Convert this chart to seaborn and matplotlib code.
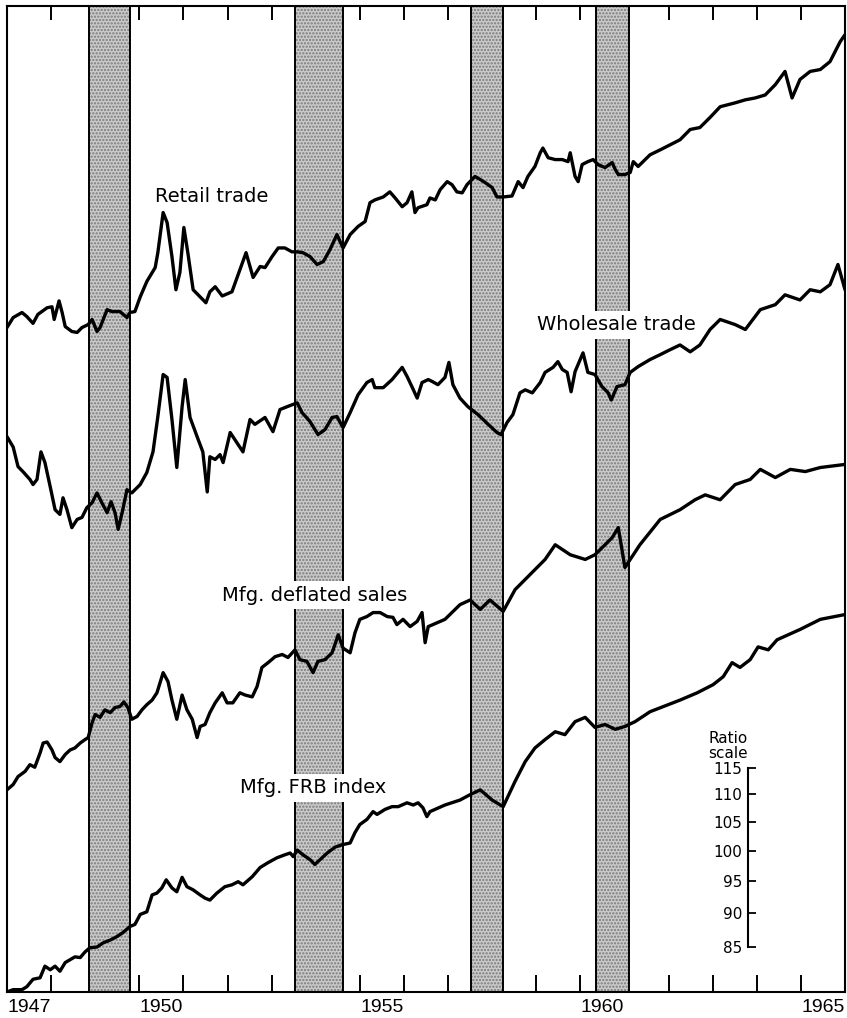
import matplotlib
matplotlib.use("Agg")
import matplotlib.pyplot as plt
from matplotlib.ticker import NullLocator
import pandas as pd
import seaborn as sns

# ---------------------------------------------------------------------------
# Monthly-ish readings (decimal year, index value on a ratio scale)
# ---------------------------------------------------------------------------
retail_dates = [
    1947.00, 1947.14, 1947.34, 1947.45, 1947.59, 1947.70, 1947.91, 1948.02, 1948.07, 1948.18,
    1948.25, 1948.32, 1948.47, 1948.59, 1948.70, 1948.84, 1948.93, 1949.04, 1949.11, 1949.27,
    1949.38, 1949.56, 1949.72, 1949.79, 1949.90, 1950.02, 1950.17, 1950.36, 1950.42, 1950.54,
    1950.63, 1950.74, 1950.83, 1950.92, 1951.01, 1951.10, 1951.22, 1951.38, 1951.51, 1951.60,
    1951.72, 1951.88, 1952.10, 1952.42, 1952.58, 1952.74, 1952.85, 1953.01, 1953.15, 1953.30,
    1953.46, 1953.58, 1953.71, 1953.87, 1954.03, 1954.17, 1954.32, 1954.48, 1954.62, 1954.78,
    1954.96, 1955.12, 1955.23, 1955.34, 1955.53, 1955.68, 1955.80, 1955.96, 1956.07, 1956.18,
    1956.25, 1956.32, 1956.52, 1956.59, 1956.71, 1956.82, 1956.98, 1957.09, 1957.20, 1957.32,
    1957.43, 1957.61, 1957.73, 1957.84, 1958.00, 1958.11, 1958.25, 1958.45, 1958.59, 1958.70,
    1958.81, 1958.97, 1959.09, 1959.15, 1959.27, 1959.43, 1959.59, 1959.72, 1959.77, 1959.88,
    1959.95, 1960.04, 1960.17, 1960.29, 1960.40, 1960.56, 1960.72, 1960.79, 1960.86, 1961.01,
    1961.13, 1961.20, 1961.31, 1961.58, 1961.81, 1962.03, 1962.26, 1962.49, 1962.71, 1962.94,
    1963.17, 1963.51, 1963.74, 1963.96, 1964.19, 1964.42, 1964.64, 1964.80, 1964.98, 1965.21,
    1965.44, 1965.66, 1965.89, 1966.00,
]
retail_values = [
    241.6, 245.7, 247.8, 246.1, 243.3, 247.0, 249.8, 250.2, 244.9, 252.7,
    247.8, 242.0, 240.0, 239.6, 241.6, 242.8, 244.9, 240.0, 241.6, 249.0,
    248.2, 248.2, 245.7, 247.8, 248.2, 254.4, 261.1, 267.3, 274.1, 293.3,
    288.4, 272.3, 257.5, 265.1, 286.0, 274.1, 257.5, 254.4, 251.9, 256.6,
    258.8, 254.8, 256.6, 274.1, 262.9, 267.8, 267.3, 272.3, 276.3, 276.3,
    274.5, 274.5, 274.1, 272.3, 268.7, 270.0, 275.4, 282.6, 276.3, 282.6,
    286.5, 288.9, 298.2, 299.6, 301.1, 303.7, 300.6, 296.2, 298.2, 303.7,
    293.3, 295.7, 297.2, 300.6, 299.6, 304.8, 309.0, 307.4, 303.7, 303.2,
    307.4, 311.7, 310.1, 308.5, 305.9, 301.1, 301.1, 301.6, 309.0, 305.9,
    311.7, 317.0, 324.4, 327.0, 321.7, 320.7, 320.7, 319.6, 324.4, 311.7,
    309.0, 318.0, 319.6, 320.7, 318.0, 316.4, 319.1, 315.4, 312.7, 312.7,
    313.8, 319.6, 317.0, 323.3, 326.0, 328.7, 331.6, 337.4, 338.5, 344.3,
    350.6, 352.9, 354.7, 355.8, 357.6, 363.9, 372.1, 355.8, 367.1, 372.1,
    373.3, 378.3, 391.2, 395.9,
]

wholesale_dates = [
    1947.00, 1947.14, 1947.25, 1947.36, 1947.52, 1947.59, 1947.68, 1947.77, 1947.86, 1947.98,
    1948.09, 1948.20, 1948.27, 1948.36, 1948.47, 1948.59, 1948.70, 1948.81, 1948.93, 1949.04,
    1949.15, 1949.27, 1949.36, 1949.45, 1949.52, 1949.61, 1949.72, 1949.83, 1950.02, 1950.17,
    1950.31, 1950.42, 1950.54, 1950.63, 1950.74, 1950.85, 1950.97, 1951.04, 1951.15, 1951.31,
    1951.44, 1951.54, 1951.60, 1951.72, 1951.83, 1951.90, 1952.06, 1952.17, 1952.35, 1952.51,
    1952.62, 1952.85, 1953.03, 1953.19, 1953.35, 1953.58, 1953.69, 1953.87, 1954.05, 1954.21,
    1954.37, 1954.48, 1954.62, 1954.78, 1954.96, 1955.16, 1955.28, 1955.34, 1955.53, 1955.73,
    1955.96, 1956.07, 1956.18, 1956.30, 1956.41, 1956.55, 1956.64, 1956.77, 1956.93, 1957.02,
    1957.11, 1957.27, 1957.45, 1957.68, 1957.91, 1958.11, 1958.20, 1958.34, 1958.47, 1958.63,
    1958.75, 1958.91, 1959.09, 1959.20, 1959.38, 1959.49, 1959.59, 1959.70, 1959.79, 1959.88,
    1960.06, 1960.17, 1960.33, 1960.49, 1960.63, 1960.70, 1960.83, 1961.01, 1961.13, 1961.31,
    1961.58, 1961.81, 1962.03, 1962.26, 1962.49, 1962.71, 1962.94, 1963.17, 1963.51, 1963.74,
    1964.08, 1964.42, 1964.64, 1964.98, 1965.21, 1965.44, 1965.66, 1965.84, 1966.00,
]
wholesale_values = [
    201.0, 197.5, 191.1, 189.5, 187.0, 185.4, 187.0, 195.9, 192.4, 184.7,
    177.7, 176.3, 181.3, 177.7, 172.4, 174.8, 175.4, 178.3, 179.8, 182.8,
    179.8, 176.8, 180.1, 176.8, 171.9, 176.8, 183.8, 182.8, 185.4, 189.2,
    195.9, 207.9, 223.2, 222.1, 206.9, 190.8, 211.4, 221.3, 207.6, 201.0,
    195.9, 183.1, 194.3, 193.4, 195.0, 192.4, 202.4, 199.9, 195.9, 206.9,
    205.2, 207.6, 202.7, 210.4, 211.4, 212.8, 209.3, 206.2, 201.7, 203.4,
    207.6, 207.9, 204.1, 209.3, 215.7, 220.2, 221.3, 218.3, 218.3, 221.3,
    225.9, 222.5, 218.7, 214.5, 220.2, 221.3, 220.6, 219.4, 222.1, 227.8,
    219.4, 214.5, 211.4, 208.6, 205.2, 202.4, 201.7, 205.9, 208.6, 216.4,
    217.5, 216.4, 220.2, 224.0, 225.9, 228.1, 225.1, 224.0, 216.8, 224.3,
    231.5, 224.0, 223.2, 218.7, 216.4, 213.8, 218.7, 219.4, 224.0, 226.2,
    228.9, 230.8, 232.7, 234.6, 231.9, 234.6, 240.8, 244.9, 242.8, 240.8,
    249.0, 251.1, 255.3, 253.1, 257.5, 256.6, 259.7, 268.7, 257.5,
]

deflated_dates = [
    1947.00, 1947.14, 1947.25, 1947.41, 1947.52, 1947.63, 1947.75, 1947.82, 1947.91, 1948.02,
    1948.09, 1948.20, 1948.32, 1948.43, 1948.54, 1948.66, 1948.77, 1948.84, 1948.93, 1949.00,
    1949.11, 1949.22, 1949.34, 1949.45, 1949.56, 1949.65, 1949.74, 1949.83, 1949.95, 1950.06,
    1950.17, 1950.29, 1950.40, 1950.54, 1950.65, 1950.74, 1950.85, 1950.97, 1951.08, 1951.20,
    1951.31, 1951.38, 1951.49, 1951.60, 1951.72, 1951.88, 1951.99, 1952.12, 1952.28, 1952.40,
    1952.56, 1952.67, 1952.78, 1952.92, 1953.08, 1953.24, 1953.37, 1953.53, 1953.64, 1953.80,
    1953.94, 1954.05, 1954.21, 1954.37, 1954.51, 1954.62, 1954.78, 1954.89, 1955.00, 1955.16,
    1955.30, 1955.46, 1955.62, 1955.75, 1955.84, 1955.98, 1956.14, 1956.30, 1956.41, 1956.48,
    1956.55, 1956.93, 1957.27, 1957.50, 1957.73, 1957.95, 1958.25, 1958.52, 1958.86, 1959.20,
    1959.43, 1959.77, 1960.11, 1960.33, 1960.56, 1960.72, 1960.86, 1961.01, 1961.35, 1961.81,
    1962.26, 1962.60, 1962.83, 1963.17, 1963.51, 1963.85, 1964.08, 1964.42, 1964.76, 1965.10,
    1965.44, 1966.00,
]
deflated_values = [
    110.8, 111.8, 113.3, 114.3, 115.6, 115.1, 117.9, 119.9, 120.1, 118.5,
    117.0, 116.2, 117.6, 118.5, 118.9, 119.9, 120.6, 121.0, 124.1, 125.8,
    125.2, 126.8, 126.2, 127.3, 127.5, 128.5, 127.3, 124.8, 125.4, 126.8,
    127.9, 128.9, 130.5, 135.0, 133.0, 128.9, 124.8, 130.0, 126.8, 124.8,
    121.0, 123.3, 123.7, 126.2, 128.3, 130.5, 128.3, 128.3, 130.5, 130.0,
    129.6, 131.9, 136.2, 137.3, 138.7, 139.2, 138.5, 140.3, 138.0, 137.6,
    135.0, 137.6, 138.0, 139.6, 143.9, 140.7, 139.6, 144.4, 147.7, 148.4,
    149.4, 149.4, 148.4, 148.2, 146.4, 147.7, 145.9, 147.2, 149.4, 142.0,
    145.9, 147.7, 151.4, 152.6, 150.2, 152.6, 149.7, 155.3, 159.3, 163.4,
    167.5, 164.7, 163.4, 164.7, 167.5, 169.5, 172.4, 161.2, 167.5, 174.8,
    177.7, 180.7, 182.2, 180.7, 185.4, 187.0, 190.2, 187.6, 190.2, 189.5,
    190.8, 191.8,
]

frb_dates = [
    1947.00, 1947.14, 1947.34, 1947.45, 1947.59, 1947.75, 1947.86, 1947.98, 1948.09, 1948.20,
    1948.32, 1948.43, 1948.54, 1948.66, 1948.77, 1948.88, 1949.04, 1949.18, 1949.34, 1949.49,
    1949.63, 1949.79, 1949.90, 1950.02, 1950.17, 1950.29, 1950.40, 1950.51, 1950.61, 1950.74,
    1950.85, 1950.97, 1951.08, 1951.22, 1951.38, 1951.49, 1951.60, 1951.76, 1951.94, 1952.10,
    1952.24, 1952.35, 1952.56, 1952.74, 1952.92, 1953.12, 1953.30, 1953.42, 1953.49, 1953.58,
    1953.71, 1953.87, 1953.98, 1954.10, 1954.26, 1954.44, 1954.60, 1954.78, 1954.89, 1955.00,
    1955.16, 1955.30, 1955.39, 1955.57, 1955.73, 1955.87, 1956.07, 1956.21, 1956.32, 1956.43,
    1956.52, 1956.59, 1956.93, 1957.27, 1957.50, 1957.73, 1958.00, 1958.25, 1958.52, 1958.75,
    1958.97, 1959.20, 1959.43, 1959.65, 1959.88, 1960.11, 1960.33, 1960.56, 1960.79, 1961.01,
    1961.24, 1961.58, 1962.26, 1962.65, 1963.01, 1963.24, 1963.44, 1963.62, 1963.85, 1964.03,
    1964.26, 1964.46, 1964.98, 1965.44, 1966.00,
]
frb_values = [
    78.8, 79.1, 79.1, 79.5, 80.5, 80.7, 82.3, 81.8, 82.3, 81.6,
    82.8, 83.2, 83.6, 83.5, 84.3, 84.9, 85.0, 85.6, 86.0, 86.5,
    87.1, 88.0, 88.3, 89.8, 90.2, 92.8, 93.1, 93.9, 95.2, 93.9,
    93.3, 95.6, 94.1, 93.6, 92.8, 92.3, 92.0, 93.1, 94.1, 94.4,
    94.9, 94.4, 95.7, 97.2, 98.0, 98.8, 99.3, 99.6, 99.0, 100.1,
    99.3, 98.5, 97.7, 98.5, 99.6, 100.6, 101.0, 101.3, 103.1, 104.5,
    105.4, 106.8, 106.3, 107.2, 107.7, 107.7, 108.4, 108.0, 108.4, 107.5,
    105.9, 106.8, 108.0, 108.9, 109.9, 110.8, 108.9, 107.7, 112.4, 116.2,
    118.9, 120.6, 122.2, 121.6, 124.3, 125.2, 123.1, 123.7, 122.7, 123.3,
    124.3, 126.4, 128.9, 130.5, 132.3, 134.1, 137.3, 136.2, 138.0, 141.0,
    140.3, 142.7, 145.2, 147.7, 148.9,
]

# Business-cycle contractions (peak, trough) shaded on the chart
recessions = [(1948.87, 1949.79), (1953.53, 1954.61), (1957.51, 1958.25), (1960.35, 1961.10)]

year_ticks = list(range(1948, 1966))
year_labels = ["1947", "1950", "1955", "1960", "1965"]
ratio_ticks = [85, 90, 95, 100, 105, 110, 115]

# ---------------------------------------------------------------------------
sns.set_theme(style="white")
plt.rcParams["font.family"] = ["DejaVu Sans"]
plt.rcParams["hatch.linewidth"] = 1.1
for key in ("text.color", "axes.labelcolor", "xtick.color", "ytick.color"):
    plt.rcParams[key] = "black"

fig = plt.figure(figsize=(8.47, 10.18), dpi=100)
ax = fig.add_axes([7 / 847, 26 / 1018, 838 / 847, 986 / 1018])
ax.set_yscale("log")
ax.set_xlim(1947, 1966)
ax.set_ylim(78.79, 415.5)

# shaded contraction bands with dark borders
for start, end in recessions:
    ax.axvspan(start, end, facecolor="#cbcbcb", edgecolor="#7a7a7a",
               hatch=".....", linewidth=0, zorder=1)
    for edge in (start, end):
        ax.axvline(edge, color="black", lw=1.4, zorder=2)

series = [
    ("Retail trade", retail_dates, retail_values),
    ("Wholesale trade", wholesale_dates, wholesale_values),
    ("Mfg. deflated sales", deflated_dates, deflated_values),
    ("Mfg. FRB index", frb_dates, frb_values),
]
for name, dates, values in series:
    df = pd.DataFrame({"date": dates, "value": values})
    sns.lineplot(data=df, x="date", y="value", ax=ax, color="black",
                 lw=2.4, estimator=None, sort=False, zorder=3)
    line = ax.lines[-1]
    line.set_solid_joinstyle("round")
    line.set_solid_capstyle("round")

ax.set_xlabel("")
ax.set_ylabel("")

# series labels
label_style = dict(fontsize=14, ha="center", va="center", zorder=6,
                   color="black", transform=ax.transAxes,
                   bbox=dict(facecolor="white", edgecolor="none", pad=3.0))
ax.text(0.2446, 0.8073, "Retail trade", **label_style)
ax.text(0.7267, 0.6765, "Wholesale trade", **label_style)
ax.text(0.3675, 0.4026, "Mfg. deflated sales", **label_style)
ax.text(0.3652, 0.2069, "Mfg. FRB index", **label_style)

# x axis: year boundary ticks, labels centred on the years
ax.set_xticks(year_ticks)
ax.set_xticklabels([])
ax.set_xticks([1947.5, 1950.5, 1955.5, 1960.5, 1965.5], minor=True)
ax.set_xticklabels(year_labels, minor=True, fontsize=14,
                   fontfamily="Liberation Sans", color="black")
ax.tick_params(axis="x", which="major", direction="in", length=12.5,
               width=1.4, color="black", bottom=True, top=False)
ax.tick_params(axis="x", which="minor", length=0, pad=5, bottom=True)
top = ax.secondary_xaxis("top")
top.set_xticks(year_ticks)
top.tick_params(direction="in", length=10, width=1.4, color="black",
                labeltop=False, top=True)
top.spines["top"].set_visible(False)

ax.set_yticks([])
ax.yaxis.set_minor_locator(NullLocator())
ax.tick_params(axis="y", which="both", left=False, right=False)
for sp in ax.spines.values():
    sp.set_color("black")
    sp.set_linewidth(1.5)

# ratio-scale ruler sharing the log scale of the main axes
rax = ax.inset_axes([741 / 838, 0, 0.04, 1])
rax.set_yscale("log")
rax.set_ylim(ax.get_ylim())
rax.patch.set_alpha(0)
for side in ("top", "right", "bottom"):
    rax.spines[side].set_visible(False)
rax.spines["left"].set_bounds(ratio_ticks[0], ratio_ticks[-1])
rax.spines["left"].set_linewidth(1.5)
rax.spines["left"].set_color("black")
rax.set_xticks([])
rax.set_yticks(ratio_ticks)
rax.set_yticklabels([str(t) for t in ratio_ticks])
rax.yaxis.set_minor_locator(NullLocator())
rax.tick_params(axis="y", which="major", direction="in", length=6,
                width=1.3, color="black", labelsize=11, pad=4,
                left=True, labelleft=True)
ax.text(0.8604, 0.2495, "Ratio\nscale", transform=ax.transAxes,
        ha="center", va="center", fontsize=11, linespacing=1.05,
        color="black")

fig.savefig("out.png", dpi=100)
